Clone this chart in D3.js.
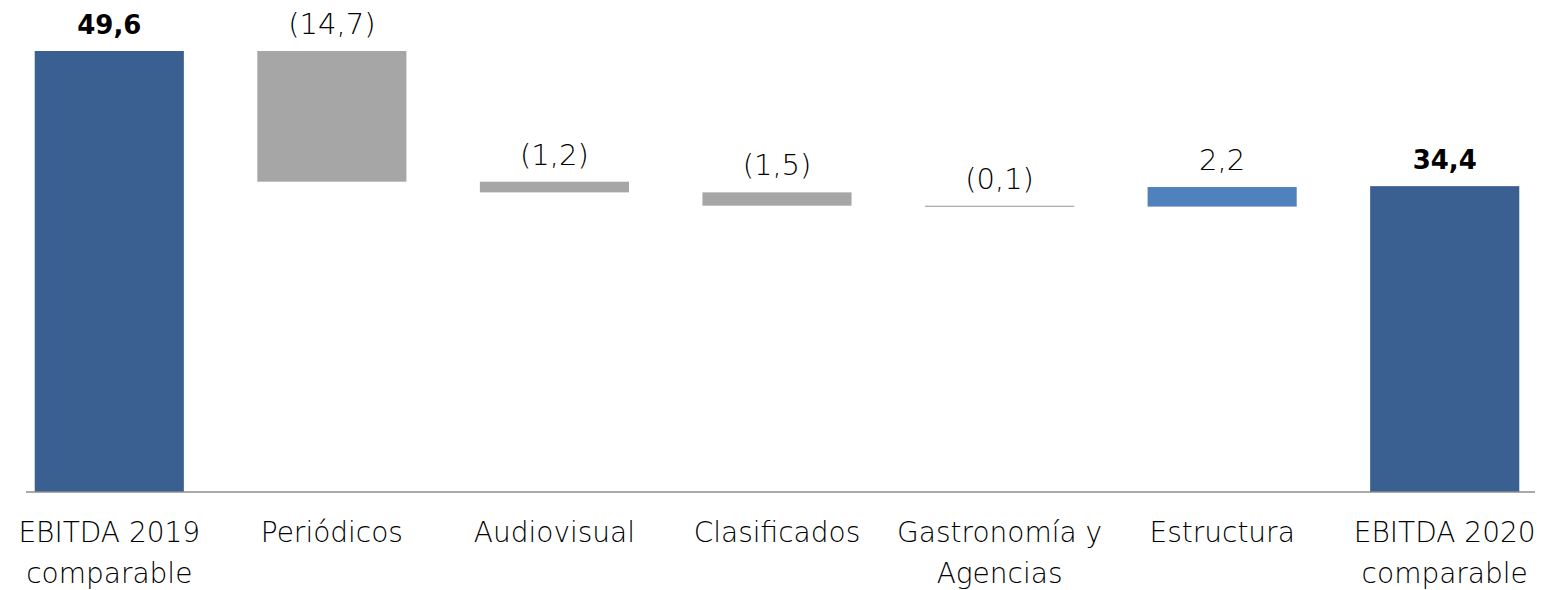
<!DOCTYPE html>
<html>
<head>
<meta charset="utf-8">
<script src="https://cdn.jsdelivr.net/npm/d3@7"></script>
<style>
  html, body { margin: 0; padding: 0; background: #fff; }
  svg { display: block; }
  text { font-family: "DejaVu Sans", sans-serif; fill: #000; }
</style>
</head>
<body>
<svg id="chart" width="1555" height="590"></svg>
<script>
// Bridge from EBITDA 2019 to EBITDA 2020 (comparable), millions of euros
const categories = ["EBITDA 2019|comparable", "Periódicos", "Audiovisual", "Clasificados", "Gastronomía y|Agencias", "Estructura", "EBITDA 2020|comparable"];
const kinds = ["total", "delta", "delta", "delta", "delta", "delta", "total"];
const values = [49.6, -14.7, -1.2, -1.5, -0.1, 2.2, 34.4];
const valueLabels = ["49,6", "(14,7)", "(1,2)", "(1,5)", "(0,1)", "2,2", "34,4"];

const svg = d3.select("#chart");

const x = d3.scaleBand()
  .domain(categories)
  .range([-2, 1556])
  .paddingInner(0.33)
  .paddingOuter(0.165);

const y = d3.scaleLinear().domain([0, 49.6]).range([492, 51]);

// running totals for the floating bars
let running = 0;
const bars = categories.map((c, i) => {
  let start, end;
  if (kinds[i] === "total") { start = 0; end = values[i]; running = values[i]; }
  else { start = running; end = running + values[i]; running = end; }
  return { cat: c, kind: kinds[i], v: values[i], start, end, label: valueLabels[i] };
});

const color = d => d.kind === "total" ? "#3A6091" : (d.v < 0 ? "#A6A6A6" : "#4F81BD");

svg.append("g").selectAll("rect")
  .data(bars)
  .join("rect")
  .attr("x", d => x(d.cat))
  .attr("width", x.bandwidth())
  .attr("y", d => y(Math.max(d.start, d.end)))
  .attr("height", d => Math.max(1.2, Math.abs(y(d.start) - y(d.end))))
  .attr("fill", color);

// baseline axis
const axis = svg.append("g").attr("transform", `translate(0,${y(0)})`)
  .call(d3.axisBottom(x).tickSize(0).tickFormat(""));
axis.select(".domain").attr("stroke", "#8c8c8c").attr("stroke-width", 1.5)
  .attr("d", "M26,0H1535");

// category labels (two lines where needed)
const catG = svg.append("g");
bars.forEach(d => {
  const lines = d.cat.split("|");
  const cx = x(d.cat) + x.bandwidth() / 2;
  const t = catG.append("text")
    .attr("x", cx)
    .attr("y", 542)
    .attr("text-anchor", "middle")
    .attr("font-size", 28)
    .attr("font-weight", 300);
  lines.forEach((l, k) => {
    t.append("tspan")
      .attr("x", cx)
      .attr("dy", k === 0 ? 0 : 41)
      .text(l);
  });
});

// value labels above each bar
svg.append("g").selectAll("text")
  .data(bars)
  .join("text")
  .attr("x", d => x(d.cat) + x.bandwidth() / 2)
  .attr("y", d => y(Math.max(d.start, d.end)) - 17)
  .attr("text-anchor", "middle")
  .attr("font-size", d => d.kind === "total" ? 26 : 29)
  .attr("font-weight", d => d.kind === "total" ? "bold" : 300)
  .text(d => d.label);
</script>
</body>
</html>
